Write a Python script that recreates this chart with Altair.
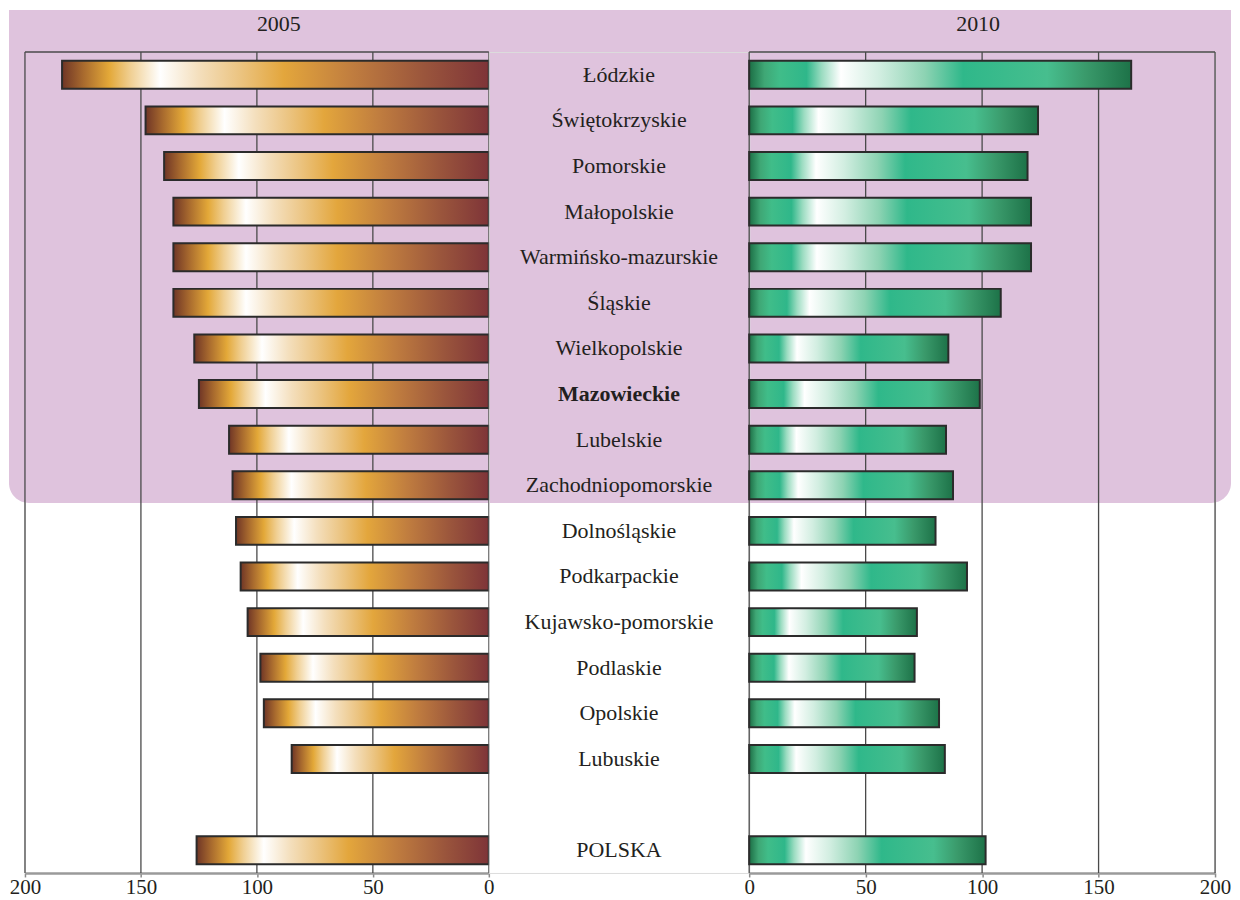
import altair as alt
import pandas as pd

regions = ["Łódzkie", "Świętokrzyskie", "Pomorskie", "Małopolskie", "Warmińsko-mazurskie",
           "Śląskie", "Wielkopolskie", "Mazowieckie", "Lubelskie", "Zachodniopomorskie",
           "Dolnośląskie", "Podkarpackie", "Kujawsko-pomorskie", "Podlaskie", "Opolskie",
           "Lubuskie", "POLSKA"]
v2005 = [184, 148, 140, 136, 136, 136, 127, 125, 112, 110.5, 109, 107, 104, 98.5, 97, 85, 126]
v2010 = [164, 124, 119.5, 121, 121, 108, 85.5, 99, 84.5, 87.5, 80, 93.5, 72, 71, 81.5, 84, 101.5]
ticks = [0, 50, 100, 150, 200]
years = ["2005", "2010"]
bold_region = "Mazowieckie"
gap = " "

domain = regions[:-1] + [gap] + regions[-1:]

df = pd.DataFrame({"region": regions, "v2005": v2005, "v2010": v2010})
df["bold"] = df["region"] == bold_region
tick_df = pd.DataFrame({"t": ticks})
one = pd.DataFrame({"a": [0]})

W1, W2, W3, H = 465, 261, 467, 823
PADX = 16
FONT = "Liberation Serif"
TXT = "#231f20"
PINK = "#dfc3dd"

brown = alt.LinearGradient(
    gradient="linear", x1=0, x2=1, y1=0, y2=0,
    stops=[
        alt.GradientStop(offset=0.0, color="#6f3526"),
        alt.GradientStop(offset=0.05, color="#a86a2e"),
        alt.GradientStop(offset=0.11, color="#e3a838"),
        alt.GradientStop(offset=0.16, color="#f0cf92"),
        alt.GradientStop(offset=0.23, color="#ffffff"),
        alt.GradientStop(offset=0.32, color="#f4dfbd"),
        alt.GradientStop(offset=0.42, color="#ebc37f"),
        alt.GradientStop(offset=0.52, color="#e3a63c"),
        alt.GradientStop(offset=0.68, color="#c07d3f"),
        alt.GradientStop(offset=0.85, color="#9a553c"),
        alt.GradientStop(offset=1.0, color="#7e3438"),
    ],
)
green = alt.LinearGradient(
    gradient="linear", x1=0, x2=1, y1=0, y2=0,
    stops=[
        alt.GradientStop(offset=0.0, color="#1c6e45"),
        alt.GradientStop(offset=0.04, color="#3fa775"),
        alt.GradientStop(offset=0.08, color="#40bd89"),
        alt.GradientStop(offset=0.15, color="#2fb78a"),
        alt.GradientStop(offset=0.19, color="#9bdcc1"),
        alt.GradientStop(offset=0.24, color="#ffffff"),
        alt.GradientStop(offset=0.34, color="#d2eee1"),
        alt.GradientStop(offset=0.46, color="#8dd3b3"),
        alt.GradientStop(offset=0.56, color="#2fb88a"),
        alt.GradientStop(offset=0.78, color="#47be8e"),
        alt.GradientStop(offset=0.88, color="#3a9a6b"),
        alt.GradientStop(offset=1.0, color="#1d7248"),
    ],
)

yenc = alt.Y("region:N", scale=alt.Scale(domain=domain, paddingInner=0, paddingOuter=0), axis=None)

xaxis = alt.Axis(values=ticks, grid=False, domainColor="#9a9a9a", domainWidth=2.5,
                 tickColor="#8a8a8a", tickSize=4, tickWidth=1.5, labelFlush=False,
                 labelFont=FONT, labelFontSize=21, labelColor=TXT, labelPadding=0, title=None)


def panel(field, reverse, grad, width, year, dx):
    xs = alt.Scale(domain=[0, 200], reverse=reverse)
    grid = alt.Chart(tick_df).mark_rule(color="#4a4a4a", strokeWidth=1.3).encode(
        x=alt.X("t:Q", scale=xs, axis=xaxis))
    top = alt.Chart(one).mark_rule(color="#4a4a4a", strokeWidth=1.3).encode(
        x=alt.value(0), x2=alt.value(width), y=alt.value(0))
    bars = alt.Chart(df).mark_bar(size=28, fill=grad, stroke="#2b2b2b", strokeWidth=2,
                                  fillOpacity=1).encode(
        x=alt.X(f"{field}:Q", scale=xs, axis=xaxis), y=yenc)
    title = alt.Chart(pd.DataFrame({"t": [year]})).mark_text(
        font=FONT, fontSize=22, color=TXT, baseline="middle", align="center").encode(
        text="t:N", x=alt.value(width / 2 + dx), y=alt.value(-28))
    return grid, top, bars, title


g1, t1, b1, tt1 = panel("v2005", True, brown, W1, years[0], 22)
g3, t3, b3, tt3 = panel("v2010", False, green, W3, years[1], -4)

bg = alt.Chart(one).mark_rect(color=PINK, cornerRadiusBottomLeft=20,
                              cornerRadiusBottomRight=20).encode(
    x=alt.value(-PADX), x2=alt.value(W1 + W2 + W3 + PADX), y=alt.value(-42), y2=alt.value(452))

left = alt.layer(bg, g1, t1, b1, tt1).properties(width=W1, height=H)
right = alt.layer(g3, t3, b3, tt3).properties(width=W3, height=H)

normal = alt.Chart(df).transform_filter("!datum.bold").mark_text(
    font=FONT, fontSize=22, color=TXT, baseline="middle", align="center").encode(
    x=alt.value(W2 / 2), y=yenc, text="region:N")
boldt = alt.Chart(df).transform_filter("datum.bold").mark_text(
    font=FONT, fontSize=22, fontWeight="bold", color=TXT, baseline="middle", align="center").encode(
    x=alt.value(W2 / 2), y=yenc, text="region:N")
middle = alt.layer(normal, boldt).properties(width=W2, height=H)

chart = alt.hconcat(left, middle, right, spacing=0, bounds="flush").properties(
    padding=0).configure_view(stroke="transparent").configure(background="white")

chart.save("out.html", embed_options={"renderer": "svg", "actions": False})
